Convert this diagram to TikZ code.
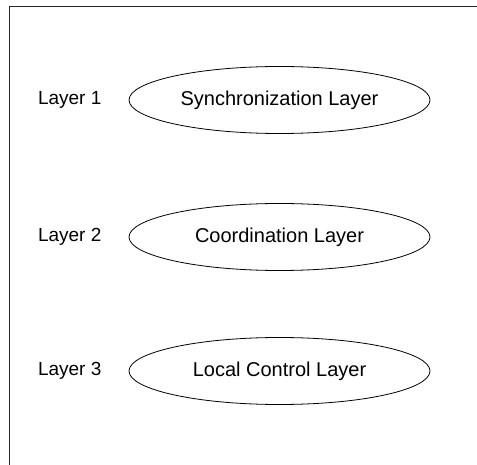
\documentclass[tikz,border=0pt]{standalone}
\usepackage{fontspec}
\setmainfont{Liberation Sans}
\usetikzlibrary{shapes.geometric,positioning}

\tikzset{
    layer/.style={draw, ellipse, line width=0.8pt, minimum width=301pt, minimum height=67pt, inner sep=0pt, font=\fontsize{20}{24}\selectfont},
    layername/.style={inner sep=0pt, font=\fontsize{19}{23}\selectfont}
}

\begin{document}
\begin{tikzpicture}[x=1pt,y=-1pt]
            \useasboundingbox (0,0) rectangle (477,465);
            \draw [semithick, black!85] (477,6) -- (9,6) -- (9,465);

            \node [layer] (sync) at (279.5,100) {Synchronization Layer};
            \node [layer] (coord) at (279.5,237) {Coordination Layer};
            \node [layer] (local) at (279.5,371) {Local Control Layer};

            \node [layername, left=27pt of sync] (lay1) {Layer 1};
            \node [layername, left=27pt of coord] (lay2) {Layer 2};
            \node [layername, left=27pt of local] (lay3) {Layer 3};
        \end{tikzpicture}
\end{document}
